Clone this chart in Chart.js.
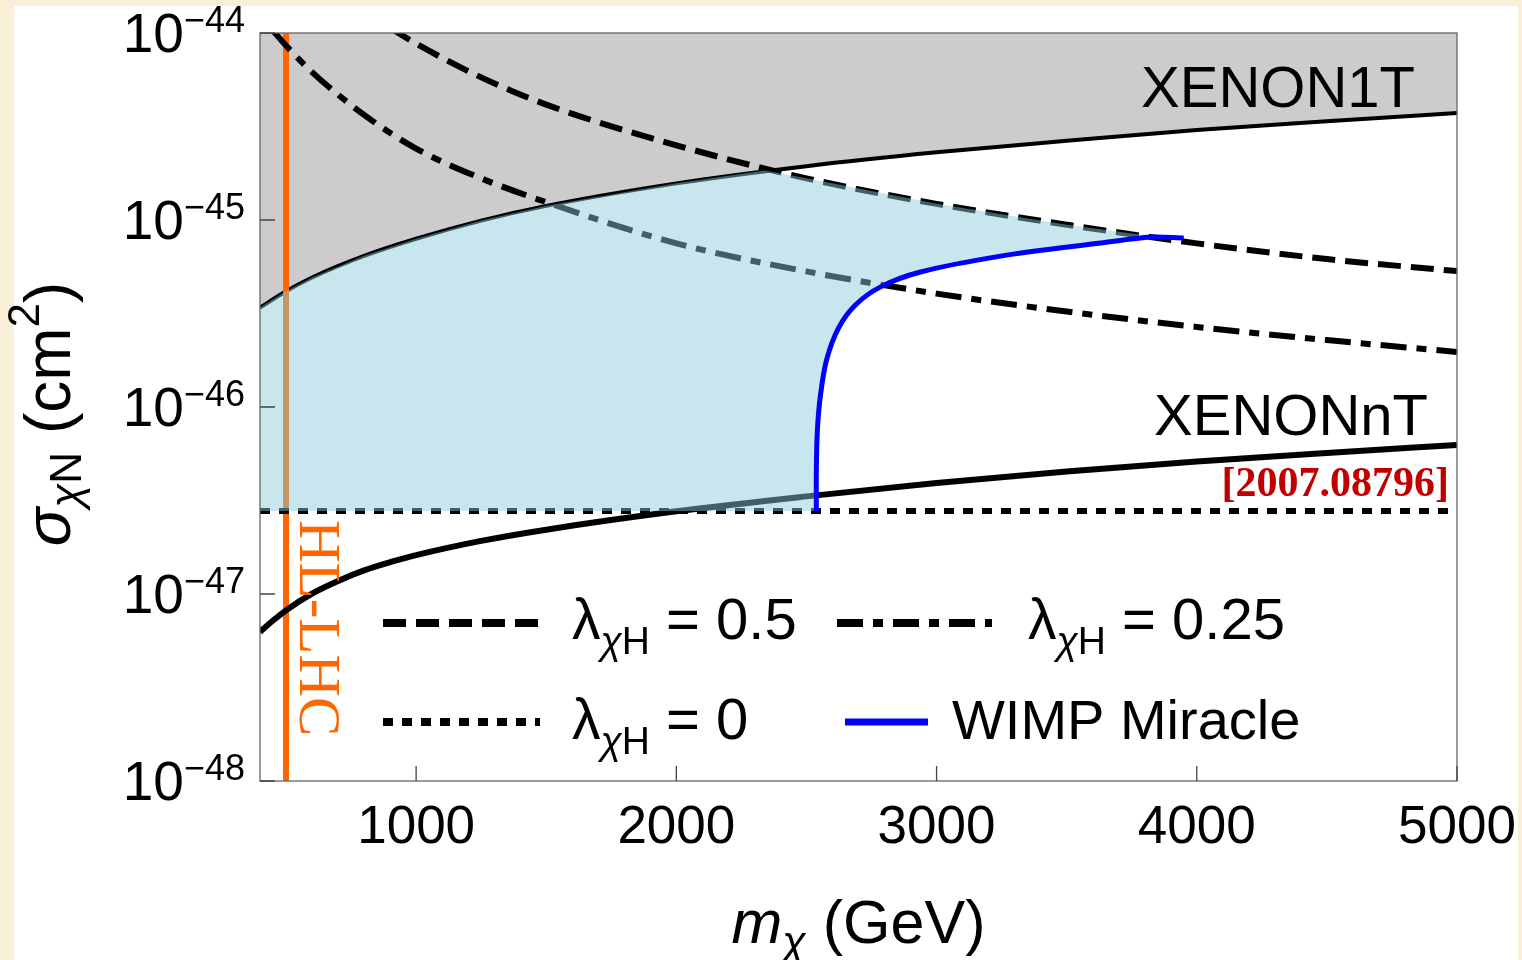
<!DOCTYPE html>
<html>
<head>
<meta charset="utf-8">
<script src="https://cdn.jsdelivr.net/npm/chart.js@4.4.1/dist/chart.umd.min.js"></script>
<style>
  html, body { margin: 0; padding: 0; }
  body { width: 1522px; height: 960px; background: #f9efd8; position: relative; overflow: hidden; }
  #panel { position: absolute; left: 14px; top: 6px; width: 1504px; height: 954px; background: #ffffff; }
  #chart { position: absolute; left: 0; top: 0; }
</style>
</head>
<body>
<div id="panel"></div>
<canvas id="chart" width="1522" height="960"></canvas>
<script>
// masses in GeV, cross sections in cm^2
const xenon1tMass = [400, 500, 600, 800, 1000, 1250, 1500, 2000, 2500, 3000, 3500, 4000, 4500, 5000];
const xenon1tSigma = [3.40e-46, 4.16e-46, 4.93e-46, 6.43e-46, 7.94e-46, 9.93e-46, 1.19e-45, 1.57e-45, 1.94e-45, 2.30e-45, 2.65e-45, 3.03e-45, 3.37e-45, 3.73e-45];

const xenonntMass = [400, 450, 500, 600, 700, 800, 900, 1000, 1250, 1500, 2000, 2500, 3000, 3500, 4000, 4500, 5000];
const xenonntSigma = [6.27e-48, 7.21e-48, 8.18e-48, 1.005e-47, 1.175e-47, 1.337e-47, 1.479e-47, 1.614e-47, 1.923e-47, 2.208e-47, 2.767e-47, 3.327e-47, 3.926e-47, 4.519e-47, 5.105e-47, 5.675e-47, 6.266e-47];

const lambda05Mass = [900, 1000, 1250, 1500, 2000, 2500, 3000, 3500, 4000, 4500, 5000];
const lambda05Sigma = [1.064e-44, 8.77e-45, 5.79e-45, 4.14e-45, 2.51e-45, 1.67e-45, 1.22e-45, 9.44e-46, 7.50e-46, 6.18e-46, 5.33e-46];

const lambda025Mass = [450, 500, 600, 800, 1000, 1250, 1500, 2000, 2500, 3000, 3500, 4000, 4500, 5000];
const lambda025Sigma = [1.03e-44, 8.57e-45, 6.18e-45, 3.65e-45, 2.41e-45, 1.67e-45, 1.245e-45, 7.50e-46, 5.31e-46, 4.04e-46, 3.24e-46, 2.68e-46, 2.28e-46, 1.97e-46];

const lambda0Mass = [400, 5000];
const lambda0Sigma = [2.78e-47, 2.78e-47];

const wimpMass = [2538, 2538, 2542, 2554, 2577, 2623, 2688, 2785, 2938, 3246, 3631, 3823, 3950];
const wimpSigma = [2.78e-47, 4.60e-47, 7.53e-47, 1.16e-46, 1.78e-46, 2.64e-46, 3.51e-46, 4.39e-46, 5.27e-46, 6.41e-46, 7.53e-46, 8.11e-46, 8.02e-46];

const hlLhcMass = [500, 500];
const hlLhcSigma = [1e-48, 1e-44];

// allowed region (light blue), outline
const regionMass = [400, 400, 500, 600, 800, 1000, 1250, 1500, 2000, 2340, 2500, 3000, 3500, 3850, 3823, 3631, 3246, 2938, 2785, 2688, 2623, 2577, 2554, 2542, 2538, 2538];
const regionSigma = [2.78e-47, 3.40e-46, 4.16e-46, 4.93e-46, 6.43e-46, 7.94e-46, 9.93e-46, 1.19e-45, 1.57e-45, 1.84e-45, 1.67e-45, 1.22e-45, 9.44e-46, 8.10e-46, 8.08e-46, 7.53e-46, 6.41e-46, 5.27e-46, 4.39e-46, 3.51e-46, 2.64e-46, 1.78e-46, 1.16e-46, 7.53e-47, 4.60e-47, 2.78e-47];

const xTickValues = [1000, 2000, 3000, 4000, 5000];
const xTickLabels = ['1000', '2000', '3000', '4000', '5000'];
const yTickValues = [1e-48, 1e-47, 1e-46, 1e-45, 1e-44];
const yTickExponents = ['48', '47', '46', '45', '44'];

const SANS = "'Liberation Sans', Arial, sans-serif";
const SERIF = "'Liberation Serif', 'Times New Roman', serif";

function pts(xs, ys) {
    return xs.map((x, i) => ({ x: x, y: ys[i] }));
}

// text with sub/superscripts: parts = [text, size, dy, style]
function richWidth(ctx, parts) {
    let w = 0;
    parts.forEach(p => {
        ctx.font = (p[3] || '') + ' ' + p[1] + 'px ' + SANS;
        w += ctx.measureText(p[0]).width;
    });
    return w;
}

function drawRich(ctx, parts, x, y, align) {
    const w = richWidth(ctx, parts);
    let cx = align === 'right' ? x - w : align === 'center' ? x - w / 2 : x;
    ctx.textAlign = 'left';
    ctx.textBaseline = 'alphabetic';
    parts.forEach(p => {
        ctx.font = (p[3] || '') + ' ' + p[1] + 'px ' + SANS;
        ctx.fillText(p[0], cx, y + p[2]);
        cx += ctx.measureText(p[0]).width;
    });
}

function lambdaLabel(value) {
    return [['λ', 57, 0], ['χ', 39, 15, 'italic'], ['H', 39, 15], [' = ' + value, 58, 0]];
}

const lineStyles = {
    dashed: { color: '#000', width: 6, dash: [23, 10] },
    dashdot: { color: '#000', width: 6, dash: [26, 10, 10, 10] },
    dotted: { color: '#000', width: 6, dash: [10, 9] },
    wimp: { color: '#0000ff', width: 5, dash: [] }
};

const decorPlugin = {
    id: 'decor',
    afterDatasetsDraw(chart) {
        const ctx = chart.ctx;
        const a = chart.chartArea;
        const xs = chart.scales.x;
        const ys = chart.scales.y;
        ctx.save();

        // frame
        ctx.strokeStyle = '#666';
        ctx.lineWidth = 1.3;
        ctx.setLineDash([]);
        ctx.strokeRect(a.left, a.top, a.right - a.left, a.bottom - a.top);

        // inward ticks
        ctx.strokeStyle = '#444';
        ctx.beginPath();
        yTickValues.forEach(v => {
            const py = ys.getPixelForValue(v);
            ctx.moveTo(a.left, py);
            ctx.lineTo(a.left + 15, py);
        });
        xTickValues.forEach(v => {
            const px = xs.getPixelForValue(v);
            ctx.moveTo(px, a.bottom);
            ctx.lineTo(px, a.bottom - 15);
        });
        ctx.stroke();

        ctx.fillStyle = '#000';
        // y tick labels
        yTickValues.forEach((v, i) => {
            const py = ys.getPixelForValue(v);
            drawRich(ctx, [['10', 55, 0], ['\u2212' + yTickExponents[i], 36, -20]], a.left - 15, py + 19, 'right');
        });
        // x tick labels
        xTickValues.forEach((v, i) => {
            const px = xs.getPixelForValue(v);
            drawRich(ctx, [[xTickLabels[i], 53, 0]], px, a.bottom + 62, 'center');
        });

        // axis titles
        drawRich(ctx, [['m', 61, 0, 'italic'], ['χ', 43, 13, 'italic'], [' (GeV)', 61, 0]], (a.left + a.right) / 2, 943, 'center');
        ctx.save();
        ctx.translate(70, 414);
        ctx.rotate(-Math.PI / 2);
        drawRich(ctx, [['σ', 64, 0, 'italic'], ['χ', 44, 11, 'italic'], ['N', 44, 11], [' (cm', 64, 0], ['2', 44, -31], [')', 64, 0]], 0, 0, 'center');
        ctx.restore();

        // annotations
        drawRich(ctx, [['XENON1T', 58, 0]], 1415, 107, 'right');
        drawRich(ctx, [['XENONnT', 58, 0]], 1428, 435, 'right');

        ctx.fillStyle = '#c00000';
        ctx.font = 'bold 42px ' + SERIF;
        ctx.textAlign = 'right';
        ctx.fillText('[2007.08796]', 1449, 496);

        ctx.save();
        ctx.translate(300, 520);
        ctx.rotate(Math.PI / 2);
        ctx.fillStyle = '#ff6600';
        ctx.font = '59px ' + SERIF;
        ctx.textAlign = 'left';
        ctx.fillText('HL-LHC', 0, 0);
        ctx.restore();

        // legend
        const legend = [
            { style: lineStyles.dashed, x0: 383, x1: 540, y: 623, tx: 572, ty: 639, parts: lambdaLabel('0.5') },
            { style: lineStyles.dashdot, x0: 837, x1: 992, y: 623, tx: 1028, ty: 639, parts: lambdaLabel('0.25') },
            { style: lineStyles.dotted, x0: 383, x1: 540, y: 722, tx: 572, ty: 739, parts: lambdaLabel('0') },
            { style: lineStyles.wimp, x0: 845, x1: 928, y: 722, tx: 952, ty: 739, parts: [['WIMP Miracle', 56, 0]] }
        ];
        legend.forEach(e => {
            ctx.strokeStyle = e.style.color;
            ctx.lineWidth = e.style.width + 2;
            ctx.setLineDash(e.style.dash);
            ctx.lineCap = 'butt';
            ctx.beginPath();
            ctx.moveTo(e.x0, e.y);
            ctx.lineTo(e.x1, e.y);
            ctx.stroke();
            ctx.setLineDash([]);
            ctx.fillStyle = '#000';
            drawRich(ctx, e.parts, e.tx, e.ty, 'left');
        });

        ctx.restore();
    }
};

function lineSet(label, xs, ys, style, order, extra) {
    return Object.assign({
        label: label,
        data: pts(xs, ys),
        showLine: true,
        borderColor: style.color,
        borderWidth: style.width,
        borderDash: style.dash,
        pointRadius: 0,
        fill: false,
        cubicInterpolationMode: 'monotone',
        clip: 0,
        order: order
    }, extra || {});
}

const ctx = document.getElementById('chart').getContext('2d');
const chart = new Chart(ctx, {
    type: 'scatter',
    data: {
        datasets: [
            lineSet('WIMP Miracle', wimpMass, wimpSigma, lineStyles.wimp, 0,
                { cubicInterpolationMode: 'default', tension: 0.3 }),
            {
                label: 'allowed',
                data: pts(regionMass, regionSigma),
                showLine: true,
                borderWidth: 0,
                borderColor: 'rgba(0,0,0,0)',
                backgroundColor: 'rgba(138, 202, 219, 0.47)',
                fill: 'shape',
                pointRadius: 0,
                tension: 0,
                clip: 0,
                order: 1
            },
            lineSet('λ = 0.5', lambda05Mass, lambda05Sigma, lineStyles.dashed, 2),
            lineSet('λ = 0.25', lambda025Mass, lambda025Sigma, lineStyles.dashdot, 3),
            lineSet('λ = 0', lambda0Mass, lambda0Sigma, lineStyles.dotted, 4),
            lineSet('XENONnT', xenonntMass, xenonntSigma, { color: '#000', width: 6, dash: [] }, 5),
            lineSet('HL-LHC', hlLhcMass, hlLhcSigma, { color: '#ff6600', width: 6, dash: [] }, 6,
                { cubicInterpolationMode: 'default', tension: 0 }),
            lineSet('XENON1T', xenon1tMass, xenon1tSigma, { color: '#000', width: 4, dash: [] }, 7,
                { fill: 'end', backgroundColor: '#cccccc' })
        ]
    },
    options: {
        responsive: false,
        animation: false,
        layout: { padding: { left: 260, top: 33, right: 65, bottom: 179 } },
        plugins: {
            legend: { display: false },
            tooltip: { enabled: false }
        },
        scales: {
            x: { type: 'linear', min: 400, max: 5000, display: false },
            y: { type: 'logarithmic', min: 1e-48, max: 1e-44, display: false }
        }
    },
    plugins: [decorPlugin]
});
</script>
</body>
</html>
